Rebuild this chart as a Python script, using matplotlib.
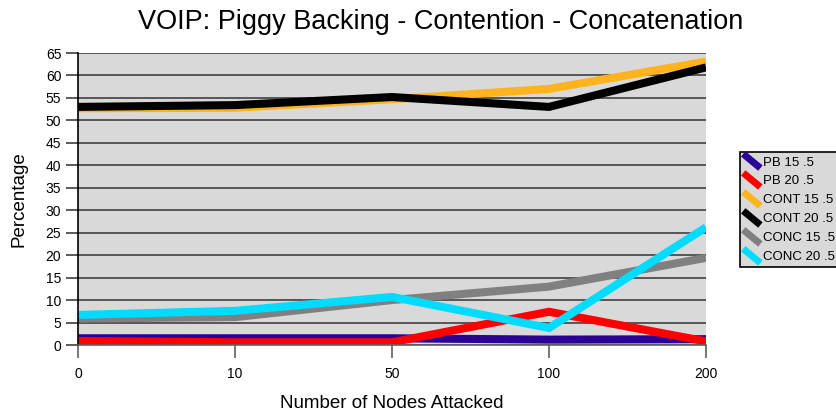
import matplotlib
matplotlib.use("Agg")
import matplotlib.pyplot as plt
from matplotlib.lines import Line2D
from matplotlib.legend_handler import HandlerBase

plt.rcParams['font.family'] = ['Liberation Sans', 'DejaVu Sans']

categories = ["0", "10", "50", "100", "200"]
pb_15 = [1.5, 1.5, 1.5, 1.2, 1.3]
pb_20 = [0.9, 0.6, 0.6, 7.4, 0.8]
cont_15 = [52.7, 52.8, 54.7, 57.0, 63.1]
cont_20 = [53.0, 53.4, 55.2, 53.0, 61.8]
conc_15 = [5.9, 6.2, 10.0, 13.0, 19.4]
conc_20 = [6.7, 7.6, 10.7, 3.8, 26.2]

series = [
    ("PB 15 .5", pb_15, "#2A0096"),
    ("PB 20 .5", pb_20, "#FF0000"),
    ("CONT 15 .5", cont_15, "#FFB41E"),
    ("CONT 20 .5", cont_20, "#000000"),
    ("CONC 15 .5", conc_15, "#808080"),
    ("CONC 20 .5", conc_20, "#00DCFF"),
]


class DiagonalHandler(HandlerBase):
    def create_artists(self, legend, orig_handle, xdescent, ydescent,
                       width, height, fontsize, trans):
        line = Line2D([-xdescent, -xdescent + width],
                      [-ydescent + height * 1.1, -ydescent - height * 0.1],
                      color=orig_handle.get_color(), lw=5,
                      solid_capstyle='butt')
        line.set_transform(trans)
        return [line]


fig = plt.figure(figsize=(8.37, 4.19), dpi=100)
ax = fig.add_axes([0.0932, 0.1766, 0.7503, 0.6969])
ax.set_facecolor("#D9D9D9")

x = list(range(len(categories)))
handles = []
for label, vals, color in series:
    h, = ax.plot(x, vals, color=color, lw=5.8, label=label,
                 solid_joinstyle='miter', solid_capstyle='butt')
    handles.append(h)

ax.set_xlim(0, len(categories) - 1)
ax.set_ylim(0, 65)
ax.set_yticks(range(0, 66, 5))
ax.set_xticks(x)
ax.set_xticklabels(categories)
ax.yaxis.grid(True, color="#404040", lw=1.2)
ax.set_axisbelow(True)

for side in ("top", "right"):
    ax.spines[side].set_visible(False)
ax.spines["left"].set_color("black")
ax.spines["left"].set_linewidth(1.2)
ax.spines["bottom"].set_color("#606060")
ax.spines["bottom"].set_linewidth(1.2)

ax.tick_params(axis='y', direction='out', length=9, width=1.2, color="#404040",
               labelsize=10, pad=3)
ax.tick_params(axis='x', direction='out', length=9, width=1.2, color="#606060",
               labelsize=10, pad=7)

ax.set_xlabel("Number of Nodes Attacked", fontsize=13.5, labelpad=10)
ax.set_ylabel("Percentage", fontsize=13.5, labelpad=13)
fig.text(0.527, 0.947, "VOIP: Piggy Backing - Contention - Concatenation",
         fontsize=19.5, ha='center', va='center')

leg = ax.legend(handles=handles, loc='center left',
                bbox_to_anchor=(1.054, 0.465), fontsize=9.5,
                handler_map={Line2D: DiagonalHandler()},
                handlelength=1.3, handleheight=1.0, handletextpad=0.2,
                labelspacing=0.42, borderpad=0.25, borderaxespad=0,
                frameon=True, fancybox=False, facecolor="#D9D9D9",
                edgecolor="black", framealpha=1)
leg.get_frame().set_linewidth(1.2)

fig.savefig("out.png", dpi=100)
